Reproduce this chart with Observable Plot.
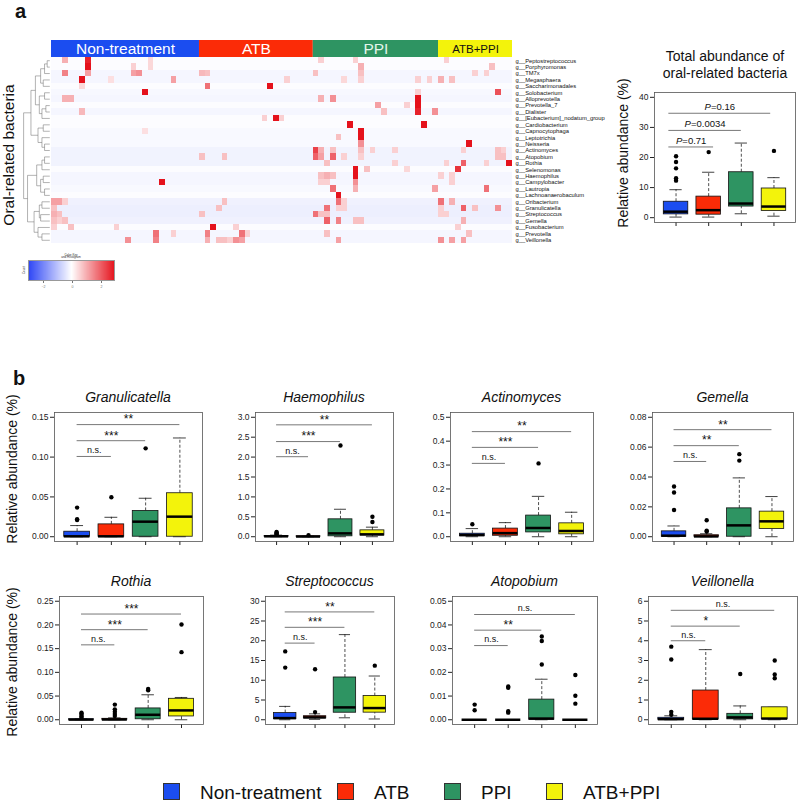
<!DOCTYPE html>
<html><head><meta charset="utf-8">
<script src="https://cdn.jsdelivr.net/npm/d3@7"></script>
<script src="https://cdn.jsdelivr.net/npm/@observablehq/plot@0.6"></script>
<style>
body{margin:0;background:#fff;}
#root{position:relative;width:800px;height:803px;overflow:hidden;background:#fff;}
</style></head><body><div id="root"></div>
<script>
const FONT = "'Liberation Sans', Arial, Helvetica, sans-serif";

// ---------- groups ----------
const groups = ["Non-treatment", "ATB", "PPI", "ATB+PPI"];
const groupColors = ["#1b4df0", "#fb2b07", "#2e9462", "#f3f30b"];
const groupSizes = [26, 20, 22, 13];

// ---------- heatmap ----------
const genera = ["g__Peptostreptococcus","g__Porphyromonas","g__TM7x","g__Megasphaera","g__Saccharimonadales",
 "g__Solobacterium","g__Alloprevotella","g__Prevotella_7","g__Dialister","g__[Eubacterium]_nodatum_group",
 "g__Cardiobacterium","g__Capnocytophaga","g__Leptotrichia","g__Neisseria","g__Actinomyces","g__Atopobium",
 "g__Rothia","g__Selenomonas","g__Haemophilus","g__Campylobacter","g__Lautropia","g__Lachnoanaerobaculum",
 "g__Oribacterium","g__Granulicatella","g__Streptococcus","g__Gemella","g__Fusobacterium","g__Prevotella","g__Veillonella"];
// typical (row z-score) colour of the unremarkable cells of each row
const rowBaseline = [-0.05,-0.05,-0.15,-0.15,-0.05,-0.12,-0.15,-0.05,-0.15,-0.05,-0.05,-0.1,-0.1,-0.1,-0.2,-0.2,-0.2,-0.05,-0.15,-0.15,-0.1,-0.05,-0.22,-0.26,-0.26,-0.22,-0.05,-0.15,-0.15];
// [row, sample column, z-score] of the coloured cells
const hotCells = [
 [0,2,1.0],[0,6,2.8],[0,17,0.5],[0,47,0.6],[0,53,0.6],[0,69,0.6],
 [1,6,3.2],[1,14,0.6],[1,17,0.5],[1,54,1.0],[1,77,0.8],
 [2,2,1.6],[2,6,1.2],[2,14,1.2],[2,15,1.4],[2,26,0.9],[2,27,0.8],[2,46,0.8],[2,54,0.8],[2,74,0.6],[2,76,0.6],
 [3,5,3.2],[3,10,0.4],[3,21,1.2],[3,41,0.6],[3,51,0.5],[3,54,0.6],[3,64,0.6],[3,66,0.6],[3,68,1.0],[3,70,0.8],
 [4,5,0.5],[4,27,1.8],[4,38,3.2],
 [5,16,3.2],[5,64,0.6],[5,78,2.2],
 [6,2,1.0],[6,3,1.0],[6,47,1.0],[6,49,1.4],[6,64,3.0],
 [7,57,1.2],[7,62,0.6],[7,64,3.2],
 [8,5,0.9],[8,58,0.8],[8,64,2.8],[8,67,1.4],
 [9,37,0.6],[9,39,3.4],[9,40,0.6],
 [10,52,3.0],[10,65,3.0],
 [11,16,0.4],[11,54,3.4],
 [12,50,0.8],[12,54,3.2],
 [13,54,1.4],[13,73,3.2],
 [14,46,2.4],[14,47,1.0],[14,49,0.8],[14,54,0.8],[14,56,0.6],[14,60,0.6],[14,72,0.6],[14,78,0.8],[14,79,0.6],
 [15,26,0.8],[15,30,0.8],[15,46,2.0],[15,47,1.2],[15,49,2.0],[15,51,0.6],[15,54,0.6],[15,78,0.8],[15,79,0.8],
 [16,48,0.8],[16,60,0.6],[16,69,0.6],[16,72,2.0],[16,76,0.6],[16,80,3.0],
 [17,53,3.2],[17,55,0.8],[17,62,0.5],[17,71,2.6],
 [18,47,0.8],[18,48,1.0],[18,49,0.8],[18,53,3.0],[18,68,0.6],[18,70,0.6],
 [19,19,3.0],[19,47,0.6],[19,48,0.6],[19,53,1.4],[19,70,0.6],
 [20,49,1.8],[20,53,1.0],[20,67,1.2],[20,76,1.8],
 [21,50,3.4],
 [22,0,1.2],[22,1,1.2],[22,2,0.6],[22,30,0.8],[22,50,1.8],[22,51,0.6],[22,68,1.8],[22,70,1.0],
 [23,0,0.8],[23,29,0.8],[23,48,1.8],[23,50,0.6],[23,51,0.6],[23,68,0.6],[23,72,2.0],[23,74,0.8],[23,78,1.4],
 [24,0,1.0],[24,1,0.8],[24,26,0.8],[24,46,1.8],[24,47,0.8],[24,48,0.8],[24,68,0.6],[24,69,0.6],
 [25,0,0.8],[25,1,0.6],[25,2,0.8],[25,48,2.0],[25,50,1.6],[25,53,0.8],[25,54,0.8],[25,72,1.0],
 [26,0,0.6],[26,3,0.8],[26,11,0.6],[26,28,3.4],[26,32,0.6],[26,71,0.6],
 [27,18,1.8],[27,21,0.6],[27,27,1.6],[27,33,1.8],[27,34,0.6],[27,48,0.8],[27,73,0.8],
 [28,13,1.4],[28,18,1.6],[28,27,1.0],[28,29,0.8],[28,30,0.8],[28,31,0.6],[28,32,1.4],[28,33,1.2],[28,50,1.2],[28,68,1.4],[28,70,1.2],[28,72,1.2]
];
// row dendrogram: [height, left, right], leaves are row indices
const dendrogram = [1.0,
  [0.72, [0.55, [0.35, [0.2, [0.1, 0, 1], 2], [0.25, 3, 4]], [0.4, [0.2, 5, 6], [0.3, [0.15, 7, 8], 9]]], [0.45, [0.25, 10, 11], [0.3, 12, [0.2, 13, 14]]]],
  [0.85, [0.5, [0.3, [0.2, 15, 16], 17], [0.35, [0.25, 18, 19], [0.2, 20, 21]]], [0.6, [0.4, [0.3, 22, 23], [0.35, 24, 25]], [0.45, 26, [0.3, 27, 28]]]]
];
const heatDomain = [-3, 0, 3];
const heatColors = ["#2d45f5", "#ffffff", "#e5121c"];
const keyTicks = [-2, 0, 2];

// ---------- total abundance (lo, q1, median, q3, hi) ----------
const totalStats = [[0.2,1.1,2.0,5.3,9.3],[0.2,1.0,2.5,7.0,15.1],[1.3,3.7,4.7,15.1,24.8],[0.5,2.2,3.7,9.7,13.3]];
const totalOutliers = [[12.3,13.1,16.4,18.5,20.4],[21.8],[],[22.2]];
const totalSig = [["0.71",23.5,2.15],["0.0034",29.0,3.0],["0.16",34.7,3.9]];
const totalTicks = [0,10,20,30,40];

// ---------- panel b ----------
const granulicatellaStats = [[0,0,0.0005,0.0063,0.014],[0,0,0.0005,0.0155,0.0244],[0,0,0.0189,0.0324,0.0483],[0,0,0.0252,0.0546,0.124]];
const granulicatellaOutliers = [[0.021,0.022,0.0366],[0.0496],[0.111],[]];
const granulicatellaSig = [["n.s.",0.1008,2],["***",0.1206,3],["**",0.1408,4]];
const granulicatellaTicks = [0,0.05,0.10,0.15];

const haemophilusStats = [[0,0,0.01,0.02,0.04],[0,0,0.005,0.01,0.015],[0,0.01,0.084,0.437,0.69],[0,0.03,0.06,0.16,0.24]];
const haemophilusOutliers = [[0.06,0.08,0.1,0.12],[0.04],[2.29],[0.37,0.5]];
const haemophilusSig = [["n.s.",2.01,2],["***",2.39,3],["**",2.81,4]];
const haemophilusTicks = [0,0.5,1,1.5,2,2.5,3];

const actinomycesStats = [[0,0.002,0.007,0.0126,0.034],[0,0.004,0.015,0.034,0.059],[0,0.018,0.0365,0.0885,0.169],[0,0.01,0.024,0.056,0.1025]];
const actinomycesOutliers = [[0.052],[],[0.307],[]];
const actinomycesSig = [["n.s.",0.307,2],["***",0.374,3],["**",0.44,4]];
const actinomycesTicks = [0,0.1,0.2,0.3,0.4,0.5];

const gemellaStats = [[0,0,0.0007,0.0036,0.0072],[0,0,0.0002,0.001,0.002],[0,0,0.0076,0.019,0.0394],[0,0.0052,0.0103,0.0168,0.0269]];
const gemellaOutliers = [[0.0179,0.0296,0.0336],[0.0035,0.004,0.011],[0.051,0.0553],[]];
const gemellaSig = [["n.s.",0.0504,2],["**",0.061,3],["**",0.0717,4]];
const gemellaTicks = [0,0.02,0.04,0.06,0.08];

const rothiaStats = [[0,0,0.0003,0.001,0.002],[0,0,0.0005,0.002,0.004],[0,0.001,0.0105,0.0239,0.0527],[0,0.007,0.0197,0.0442,0.047]];
const rothiaOutliers = [[0.004,0.007,0.01,0.013,0.015],[0.008,0.012,0.017,0.022,0.032],[0.062,0.065],[0.1426,0.2008]];
const rothiaSig = [["n.s.",0.158,2],["***",0.19,3],["***",0.223,4]];
const rothiaTicks = [0,0.05,0.10,0.15,0.20,0.25];

const streptococcusStats = [[0,0.15,0.42,1.69,3.38],[0.1,0.35,0.6,0.9,1.5],[0.5,1.78,3.13,10.7,21.55],[0.2,1.8,2.96,6.0,11.07]];
const streptococcusOutliers = [[13.2,17.3],[1.94,12.8],[],[13.7]];
const streptococcusSig = [["n.s.",19.4,2],["***",23.4,3],["**",27.3,4]];
const streptococcusTicks = [0,5,10,15,20,25,30];

const atopobiumStats = [[0,0,0,0,0],[0,0,0,0,0],[0,0,0.0005,0.0085,0.0171],[0,0,0,0,0]];
const atopobiumOutliers = [[0.004,0.0064],[0.003,0.0036,0.0135,0.014],[0.0233,0.0332,0.0351],[0.0068,0.0101,0.0189]];
const atopobiumSig = [["n.s.",0.0313,2],["**",0.0378,3],["n.s.",0.0444,4]];
const atopobiumTicks = [0,0.01,0.02,0.03,0.04,0.05];

const veillonellaStats = [[0,0,0.03,0.1,0.2],[0,0.02,0.05,1.48,3.55],[0,0.02,0.12,0.3,0.7],[0,0.03,0.06,0.63,0.63]];
const veillonellaOutliers = [[0.25,0.4,3.05,3.7],[],[2.32],[2.1,2.29,3.0]];
const veillonellaSig = [["n.s.",4.0,2],["*",4.74,3],["n.s.",5.54,4]];
const veillonellaTicks = [0,1,2,3,4,5,6];

// =====================================================================
const root = document.getElementById("root");
function place(svg, left, top) {
  svg.style.position = "absolute";
  svg.style.left = left + "px";
  svg.style.top = top + "px";
  svg.style.maxWidth = "none";
  svg.style.background = "transparent";
  root.appendChild(svg);
}
function txt(s, x, y, o = {}) {
  const d = document.createElement("div");
  d.textContent = s;
  Object.assign(d.style, {
    position: "absolute", left: x + "px", top: y + "px", fontFamily: FONT,
    fontSize: (o.size || 12) + "px", whiteSpace: "nowrap", lineHeight: "1",
    color: o.color || "#111", fontStyle: o.italic ? "italic" : "normal",
    fontWeight: o.bold ? "bold" : "normal",
    transform: `translate(${o.ax ?? -50}%, -50%)` + (o.rot ? ` rotate(${o.rot}deg)` : "")
  });
  root.appendChild(d);
  return d;
}

// ---------- heatmap ----------
const nCols = d3.sum(groupSizes);
const starts = [0, ...d3.cumsum(groupSizes)];
const cells = [];
rowBaseline.forEach((z, r) => { for (let c = 0; c < nCols; c++) cells.push({r, c, z}); });
for (const [r, c, z] of hotCells) cells[r * nCols + c].z = z;

function buildTree(node) {
  if (typeof node === "number") return {h: 0, y: node + 0.5};
  const [h, a, b] = node;
  const A = buildTree(a), B = buildTree(b);
  return {h, kids: [A, B], y: (A.y + B.y) / 2};
}
const hx = h => -0.3 - h * 4.6;
const segs = [];
(function walk(n) {
  if (!n.kids) return;
  segs.push({x1: hx(n.h), y1: n.kids[0].y, x2: hx(n.h), y2: n.kids[1].y});
  for (const k of n.kids) { segs.push({x1: hx(n.h), y1: k.y, x2: hx(k.h), y2: k.y}); walk(k); }
})(buildTree(dendrogram));

const headerRows = groups.map((g, i) => ({g, x1: starts[i], x2: starts[i + 1]}));
const headerTextColor = ["#ffffff", "#ffffff", "#e3f5ea", "#111111"];
const headerFont = [15.5, 15.5, 15.5, 11.5];

const heat = Plot.plot({
  width: 620, height: 250, marginLeft: 51, marginRight: 108, marginTop: 40, marginBottom: 7,
  x: {domain: [0, nCols], axis: null},
  y: {domain: [-2.65, genera.length], reverse: true, axis: null},
  color: {type: "linear", domain: heatDomain, range: heatColors, clamp: true, interpolate: "rgb"},
  style: {fontFamily: FONT, background: "transparent", overflow: "visible"},
  marks: [
    Plot.rect(cells, {x1: "c", x2: d => d.c + 1, y1: "r", y2: d => d.r + 1, fill: "z", shapeRendering: "crispEdges"}),
    ...headerRows.map((d, i) => Plot.rect([d], {x1: "x1", x2: "x2", y1: () => -2.65, y2: () => 0, fill: groupColors[i]})),
    ...headerRows.map((d, i) => Plot.text([d], {x: e => (e.x1 + e.x2) / 2, y: () => -1.3, text: "g", fill: headerTextColor[i], fontSize: headerFont[i]})),
    Plot.text(genera, {x: () => nCols, y: (d, i) => i + 0.5, text: d => d, textAnchor: "start", dx: 3, fontSize: 5.8, fill: "#111"}),
    Plot.link(segs, {x1: "x1", y1: "y1", x2: "x2", y2: "y2", stroke: "#666", strokeWidth: 0.5})
  ]
});
place(heat, 0, 0);

// colour key
try {
  const key = Plot.legend({
    color: {type: "linear", domain: heatDomain, range: heatColors, interpolate: "rgb"},
    width: 87, height: 31, marginTop: 2, marginBottom: 8, marginLeft: 0, marginRight: 0,
    ticks: keyTicks, tickSize: 2, tickFormat: d3.format("d"), label: null,
    style: {fontSize: "3.5px", fontFamily: FONT, color: "#777", background: "transparent"}
  });
  key.querySelectorAll(".tick line").forEach(l => { l.setAttribute("y1", 0); l.setAttribute("y2", 2); });
  key.style.position = "absolute"; key.style.left = "28px"; key.style.top = "258px";
  root.appendChild(key);
  const border = document.createElement("div");
  Object.assign(border.style, {position: "absolute", left: "28px", top: "260px", width: "87px", height: "21px",
    border: "0.6px solid #999", boxSizing: "border-box"});
  root.appendChild(border);
} catch (e) { console.error(e); }

// ---------- box plot helper ----------
const hw = 0.375;
function boxPanel(stats, outliers, sig, M, ticks, fmt, frame, pStyle) {
  const [L, R, T, B] = frame;
  const mL = 40, mR = 6, mT = 4, mB = 10;
  const boxes = stats.map((s, i) => ({g: i + 1, lo: s[0], q1: s[1], med: s[2], q3: s[3], hi: s[4], color: groupColors[i]}));
  const pts = outliers.flatMap((arr, i) => arr.map(v => ({g: i + 1, v})));
  const sigs = sig.map(([label, y, to]) => ({label, y, to, from: pStyle ? 0.78 : 1.0}));
  const whisk = {stroke: "#222", strokeWidth: 0.8, strokeDasharray: "3,2"};
  const marks = [
    Plot.frame({stroke: "#555", strokeWidth: 0.8}),
    Plot.ruleX(boxes, {x: "g", y1: "q3", y2: "hi", ...whisk}),
    Plot.ruleX(boxes, {x: "g", y1: "lo", y2: "q1", ...whisk}),
    Plot.ruleY(boxes, {y: "hi", x1: d => d.g - hw / 2, x2: d => d.g + hw / 2, stroke: "#111", strokeWidth: 0.8}),
    Plot.ruleY(boxes, {y: "lo", x1: d => d.g - hw / 2, x2: d => d.g + hw / 2, stroke: "#111", strokeWidth: 0.8}),
    Plot.rect(boxes, {x1: d => d.g - hw, x2: d => d.g + hw, y1: "q1", y2: "q3", fill: "color", stroke: "#111", strokeWidth: 0.8}),
    Plot.ruleY(boxes, {y: "med", x1: d => d.g - hw, x2: d => d.g + hw, stroke: "#000", strokeWidth: 2.5}),
    Plot.dot(pts, {x: "g", y: "v", r: 2.2, fill: "#000", stroke: null}),
    Plot.ruleY(sigs, {y: "y", x1: "from", x2: "to", stroke: "#555", strokeWidth: 0.8})
  ];
  if (pStyle) {
    const ctx = document.createElement("canvas").getContext("2d");
    const fs = 9.5;
    for (const s of sigs) {
      ctx.font = `italic ${fs}px ${FONT}`; const wP = ctx.measureText("P").width;
      ctx.font = `${fs}px ${FONT}`; const wR = ctx.measureText("=" + s.label).width;
      const w = wP + wR;
      marks.push(Plot.text([s], {x: d => (d.from + d.to) / 2, y: "y", text: () => "P", fontStyle: "italic", textAnchor: "start", dx: -w / 2, dy: -6, fontSize: fs, fill: "#111"}));
      marks.push(Plot.text([s], {x: d => (d.from + d.to) / 2, y: "y", text: d => "=" + d.label, textAnchor: "start", dx: -w / 2 + wP, dy: -6, fontSize: fs, fill: "#111"}));
    }
  } else {
    marks.push(Plot.text(sigs.filter(d => d.label.startsWith("*")), {x: d => (d.from + d.to) / 2, y: "y", text: "label", dy: -5, fontSize: 12, fill: "#111"}));
    marks.push(Plot.text(sigs.filter(d => !d.label.startsWith("*")), {x: d => (d.from + d.to) / 2, y: "y", text: "label", dy: -6, fontSize: 9, fill: "#111"}));
  }
  const svg = Plot.plot({
    width: R - L + mL + mR, height: B - T + mT + mB,
    marginLeft: mL, marginRight: mR, marginTop: mT, marginBottom: mB,
    x: {domain: [0.34, 4.66], ticks: [1, 2, 3, 4], tickFormat: () => "", tickSize: 4, label: null},
    y: {domain: [-0.04 * M, 1.04 * M], ticks, tickFormat: d3.format(fmt), tickSize: 4, tickPadding: 2, label: null},
    color: {type: "identity"},
    style: {fontFamily: FONT, fontSize: "8.5px", color: "#222", background: "transparent", overflow: "visible"},
    marks
  });
  place(svg, L - mL, T - mT);
}

// total abundance
boxPanel(totalStats, totalOutliers, totalSig, 40, totalTicks, "d", [654, 795, 92, 222], true);

const panels = [
  ["Granulicatella", granulicatellaStats, granulicatellaOutliers, granulicatellaSig, 0.15, granulicatellaTicks, ".2f", [54, 202, 412, 541]],
  ["Haemophilus", haemophilusStats, haemophilusOutliers, haemophilusSig, 3.0, haemophilusTicks, ".1f", [255, 393, 412, 541]],
  ["Actinomyces", actinomycesStats, actinomycesOutliers, actinomycesSig, 0.5, actinomycesTicks, ".1f", [450, 593, 412, 541]],
  ["Gemella", gemellaStats, gemellaOutliers, gemellaSig, 0.08, gemellaTicks, ".2f", [652, 793, 412, 541]],
  ["Rothia", rothiaStats, rothiaOutliers, rothiaSig, 0.25, rothiaTicks, ".2f", [59, 203, 596, 724]],
  ["Streptococcus", streptococcusStats, streptococcusOutliers, streptococcusSig, 30, streptococcusTicks, "d", [265, 394, 596, 724]],
  ["Atopobium", atopobiumStats, atopobiumOutliers, atopobiumSig, 0.05, atopobiumTicks, ".2f", [452, 597, 596, 724]],
  ["Veillonella", veillonellaStats, veillonellaOutliers, veillonellaSig, 6, veillonellaTicks, "d", [648, 797, 596, 724]]
];
for (const [name, st, out, sg, M, tk, fmt, fr] of panels) {
  boxPanel(st, out, sg, M, tk, fmt, fr, false);
  txt(name, (fr[0] + fr[1]) / 2, fr[2] - 15, {size: 14, italic: true});
}

// ---------- texts ----------
txt("a", 15, 11, {size: 20, bold: true, ax: 0});
txt("b", 13, 378, {size: 20, bold: true, ax: 0});
txt("Oral-related bacteria", 9, 155, {size: 15.5, rot: -90});
txt("Color Key", 71, 254.5, {size: 3, color: "#333"});
txt("and Histogram", 71, 257, {size: 3, color: "#333"});
txt("Count", 24, 270, {size: 3, rot: -90, color: "#333"});
txt("Total abundance of", 725, 56, {size: 14});
txt("oral-related bacteria", 725, 73, {size: 14});
txt("Relative abundance (%)", 623, 153, {size: 14, rot: -90});
txt("Relative abundance (%)", 12, 469, {size: 14, rot: -90});
txt("Relative abundance (%)", 12, 662, {size: 14, rot: -90});

// ---------- legend ----------
const legendX = [163, 337, 444, 546];
groups.forEach((g, i) => {
  const sq = document.createElement("div");
  Object.assign(sq.style, {position: "absolute", left: legendX[i] + "px", top: "783px", width: "17px", height: "17px",
    background: groupColors[i], border: "0.8px solid #333", boxSizing: "border-box"});
  root.appendChild(sq);
  txt(g, legendX[i] + 37, 792, {size: 19, ax: 0, color: "#111"});
});
</script></body></html>
